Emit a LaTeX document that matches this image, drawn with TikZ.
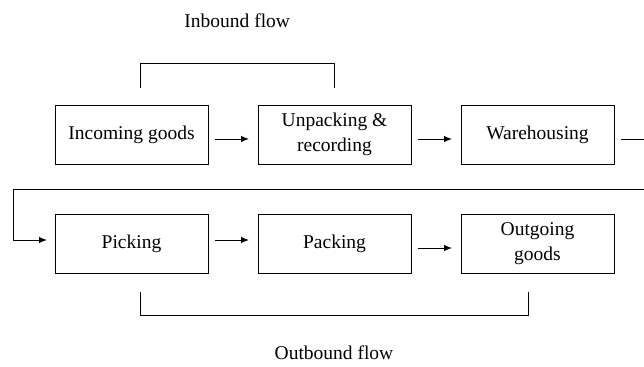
\documentclass[tikz,border=0pt]{standalone}
\usepackage{fontspec}
\setmainfont{Liberation Serif}
\usetikzlibrary{arrows.meta}
\usetikzlibrary{positioning}
\usetikzlibrary{calc}

\tikzset{
  stage/.style={draw, line width=1bp, minimum width=153bp, minimum height=59bp,
    align=center, inner sep=2bp, outer sep=0pt},
  flow/.style={line width=1bp, -{Latex[length=8bp,width=6.5bp]}},
  brace/.style={line width=1bp},
  lbl/.style={inner sep=0pt}
}

\begin{document}
\begin{tikzpicture}[font=\fontsize{19.5bp}{24.5bp}\selectfont, node distance=50bp]
\clip (0,0) rectangle (644bp,-367bp);
% first row
\node[stage, anchor=north west] (inc) at (55bp,-105bp) {Incoming goods};
\node[stage, right=of inc] (unp) {Unpacking \&\\ recording};
\node[stage, right=of unp] (ware) {Warehousing};
% second row
\node[stage, below=of inc] (pick) {Picking};
\node[stage, right=of pick] (pack) {Packing};
\node[stage, right=of pack] (out) {Outgoing\\ goods};
% arrows between stages
\draw[flow, shorten <=7bp, shorten >=9bp] ([yshift=-4.5bp]inc.east) -- ([yshift=-4.5bp]unp.west);
\draw[flow, shorten <=7bp, shorten >=9bp] ([yshift=-4.5bp]unp.east) -- ([yshift=-4.5bp]ware.west);
\draw[flow, shorten <=7bp, shorten >=9bp] ([yshift=3.5bp]pick.east) -- ([yshift=3.5bp]pack.west);
\draw[flow, shorten <=7bp, shorten >=9bp] ([yshift=-4.5bp]pack.east) -- ([yshift=-4.5bp]out.west);
% return line to the second row
\coordinate (ret) at ($(ware.south)!0.5!(out.north)$);
\coordinate (turn) at ($(pick.west |- ret)+(-42bp,0)$);
\draw[brace] ([shift={(7bp,-4.5bp)}]ware.east) -- ++(40bp,0) |- (turn);
\draw[flow, shorten >=8bp] (turn) |- ([yshift=3.5bp]pick.west);
% inbound and outbound brackets
\draw[brace] ([shift={(8.5bp,17bp)}]inc.north) -- ++(0,25bp) -| ([yshift=17bp]unp.north);
\draw[brace] ([shift={(8.5bp,-19bp)}]pick.south) -- ++(0,-23bp) -| ([shift={(-9.5bp,-19bp)}]out.south);
\node[lbl] (inlbl) at ($([xshift=8.5bp]inc.north)!0.5!(unp.north)+(0,84bp)$) {Inbound flow};
\node[lbl] (outlbl) at ($([xshift=8.5bp]pick.south)!0.5!([xshift=-9.5bp]out.south)+(0,-80bp)$) {Outbound flow};
\end{tikzpicture}
\end{document}
